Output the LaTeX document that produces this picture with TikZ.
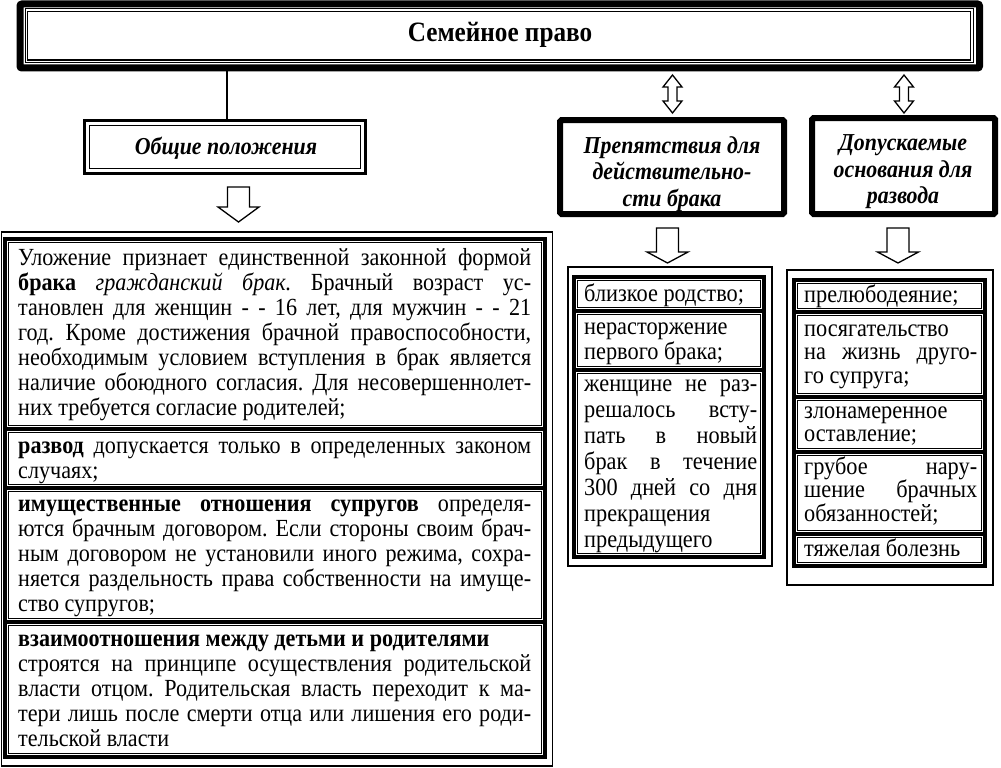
\documentclass[tikz,border=0pt]{standalone}
\usepackage{fontspec}
\setmainfont{Liberation Serif}[FakeStretch=0.9]
\frenchspacing
\newcommand\hollowdown[4]{% x, top, headstart, tip
  \draw[line width=1.3,fill=white] (#1-11,#2) -- (#1+11,#2) -- (#1+11,#3) -- (#1+20.5,#3) -- (#1,#4) -- (#1-20.5,#3) -- (#1-11,#3) -- cycle;}
\newcommand\hollowupdown[3]{% x, top tip, bottom tip
  \draw[line width=1.3,fill=white] (#1,#2) -- (#1+9.5,#2+12) -- (#1+4.5,#2+12) -- (#1+4.5,#3-12) -- (#1+9.5,#3-12) -- (#1,#3) -- (#1-9.5,#3-12) -- (#1-4.5,#3-12) -- (#1-4.5,#2+12) -- (#1-9.5,#2+12) -- cycle;}
\newcommand\itembox[4]{% x1,y1,x2,y2
  \draw[line width=3.6] (#1,#2) rectangle (#3,#4);
  \draw[line width=0.8] (#1+3.8,#2+3.8) rectangle (#3-3.8,#4-3.8);}
\newcommand\bodyfont{\fontsize{24.6}{25}\selectfont}
\newcommand\listfont{\fontsize{24.8}{26}\selectfont}
\newcommand\rlistfont{\fontsize{24.8}{23.5}\selectfont}
\newcommand\jbox[2]{\parbox[t]{#1}{\tolerance=10000\hyphenpenalty=10000\exhyphenpenalty=10000 #2}}
\tikzset{
  txt/.style={inner sep=0pt, anchor=base west},
  head/.style={inner sep=0pt, align=center, font=\fontsize{24.3}{26.5}\selectfont\bfseries\itshape},
  thin frame/.style={line width=1.5},
}
\begin{document}
\begin{tikzpicture}[x=1pt,y=-1pt]
\useasboundingbox (0,0) rectangle (1001,768);
% title
\draw[line width=7, rounded corners=2] (20,4) rectangle (979.5,68);
\draw[line width=1] (25,9) rectangle (973.5,62.5);
\draw[line width=1.2] (27.5,11.5) rectangle (970.5,60);
\node[inner sep=0pt, font=\fontsize{28}{30}\selectfont\bfseries] (title) at (500,35) {Семейное право};
\coordinate (titlebot) at (227,71);
% Общие положения
\draw[line width=3] (84.5,120.5) rectangle (365,173);
\draw[line width=1] (89,125) rectangle (360.5,168.5);
\node[head] (gen) at (226,148) {Общие положения};
\coordinate (gentop) at (227,119);
\draw[line width=1.2] (titlebot) -- (gentop);
% headers right
\draw[line width=6, rounded corners=1.5] (560,120) rectangle (784,214);
\node[head] (obst) at (672,174) {Препятствия для\\действительно-\\сти брака};
\draw[line width=6, rounded corners=1.5] (812,118) rectangle (995,214);
\node[head] (div) at (903,172) {Допускаемые\\основания для\\развода};
% arrows
\hollowupdown{672.5}{75}{113}
\hollowupdown{904}{75}{113}
\hollowdown{238.5}{187}{207}{222}
\hollowdown{667.5}{228}{252}{263}
\hollowdown{898}{228}{252}{263}
% left list
\draw[thin frame] (1.5,232) rectangle (552.5,766);
\itembox{5}{239}{545}{429}
\itembox{5}{429}{545}{488}
\itembox{5}{488}{545}{622}
\itembox{5}{622}{545}{757}
\node[txt] (l1) at (18,265) {\bodyfont\jbox{513pt}{Уложение признает единственной законной формой\linebreak
\textbf{брака} \textit{гражданский брак.} Брачный возраст ус-\linebreak
тановлен для женщин - - 16 лет, для мужчин - - 21\linebreak
год. Кроме достижения брачной правоспособности,\linebreak
необходимым условием вступления в брак является\linebreak
наличие обоюдного согласия. Для несовершеннолет-\linebreak
них требуется согласие родителей;}};
\node[txt] (l2) at (18,453) {\bodyfont\jbox{513pt}{\textbf{развод} допускается только в определенных законом\linebreak
случаях;}};
\node[txt] (l3) at (18,511) {\bodyfont\jbox{513pt}{\textbf{имущественные отношения супругов} определя-\linebreak
ются брачным договором. Если стороны своим брач-\linebreak
ным договором не установили иного режима, сохра-\linebreak
няется раздельность права собственности на имуще-\linebreak
ство супругов;}};
\node[txt] (l4) at (18,646) {\bodyfont\jbox{513pt}{\textbf{взаимоотношения между детьми и родителями}\newline
строятся на принципе осуществления родительской\linebreak
власти отцом. Родительская власть переходит к ма-\linebreak
тери лишь после смерти отца или лишения его роди-\linebreak
тельской власти}};
% middle list
\draw[thin frame] (568,267) rectangle (772,566);
\itembox{574}{277}{764}{311}
\itembox{574}{311}{764}{370}
\itembox{574}{370}{764}{557}
\node[txt] (m1) at (584,301) {\listfont\jbox{173pt}{близкое родство;}};
\node[txt] (m2) at (584,334) {\fontsize{24.8}{25.5}\selectfont\jbox{173pt}{нерасторжение\newline первого брака;}};
\node[txt] (m3) at (584,391) {\listfont\jbox{173pt}{женщине не раз-\linebreak
решалось всту-\linebreak
пать в новый\linebreak
брак в течение\linebreak
300 дней со дня\linebreak
прекращения\newline
предыдущего}};
% right list
\draw[thin frame] (787,270) rectangle (993,585);
\itembox{794}{280}{985}{312}
\itembox{794}{312}{985}{397}
\itembox{794}{397}{985}{452}
\itembox{794}{452}{985}{534}
\itembox{794}{534}{985}{566}
\node[txt] (r1) at (804,302.5) {\rlistfont\jbox{173pt}{прелюбодеяние;}};
\node[txt] (r2) at (804,336) {\rlistfont\jbox{173pt}{посягательство\newline на жизнь друго-\linebreak го супруга;}};
\node[txt] (r3) at (804,418) {\rlistfont\jbox{173pt}{злонамеренное\newline оставление;}};
\node[txt] (r4) at (804,474) {\rlistfont\jbox{173pt}{грубое нару-\linebreak шение брачных\linebreak обязанностей;}};
\node[txt] (r5) at (804,556) {\rlistfont\jbox{173pt}{тяжелая болезнь}};
\end{tikzpicture}
\end{document}
